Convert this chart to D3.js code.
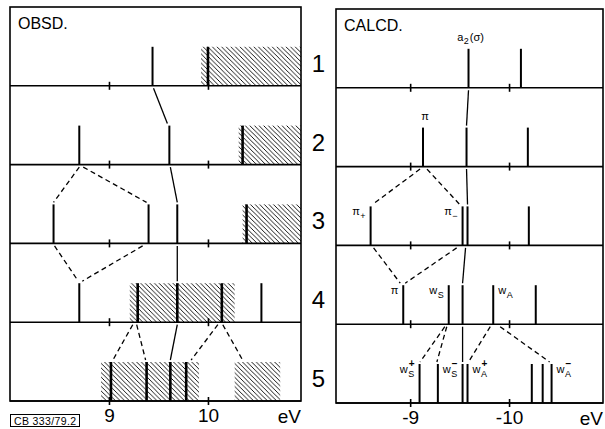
<!DOCTYPE html>
<html>
<head>
<meta charset="utf-8">
<script src="https://cdn.jsdelivr.net/npm/d3@7"></script>
<style>
  body { margin: 0; background: #fff; }
  text { font-family: "Liberation Sans", Arial, Helvetica, sans-serif; fill: #000; }
</style>
</head>
<body>
<svg id="chart" width="605" height="429"></svg>
<script>
const rowNames = ["1", "2", "3", "4", "5"];

// observed spectra, eV  [row, eV]
const obsPeaks = [[0, 9.44], [1, 8.70], [1, 9.61], [2, 8.44], [2, 9.40], [2, 9.69], [3, 8.70], [3, 10.54]];
// onsets / peaks lying inside a hatched band  [row, eV]
const obsBandPeaks = [[0, 10.0], [1, 10.35], [2, 10.39], [3, 9.29], [3, 9.69], [3, 10.14],
                      [4, 9.02], [4, 9.38], [4, 9.62], [4, 9.78]];
// hatched (unresolved) bands  [row, from eV, to eV]
const obsBands = [[0, 9.93, 10.94], [1, 10.31, 10.94], [2, 10.35, 10.94], [3, 9.21, 10.27],
                  [4, 8.92, 9.91], [4, 10.27, 10.73]];
// correlations row -> row+1  [row, eV upper, eV lower]
const obsSolidLinks = [[0, 9.45, 9.59], [1, 9.62, 9.69], [2, 9.69, 9.69], [3, 9.69, 9.62]];
const obsDashedLinks = [[1, 8.70, 8.44], [1, 8.74, 9.38], [2, 8.45, 8.69], [2, 9.34, 8.73],
                        [3, 9.24, 9.04], [3, 9.28, 9.37], [3, 10.10, 9.83], [3, 10.15, 10.35]];

// calculated orbital energies, eV  [row, eV]
const calcPeaks = [[0, -9.59], [0, -10.12],
                   [1, -9.13], [1, -9.57], [1, -10.19],
                   [2, -8.60], [2, -9.53], [2, -9.58], [2, -10.20],
                   [3, -8.93], [3, -9.39], [3, -9.53], [3, -9.84], [3, -10.27],
                   [4, -9.095], [4, -9.28], [4, -9.53], [4, -9.58], [4, -10.23], [4, -10.34], [4, -10.43]];
const calcSolidLinks = [[0, -9.59, -9.57], [1, -9.57, -9.58], [2, -9.56, -9.53], [3, -9.53, -9.53]];
const calcDashedLinks = [[1, -9.10, -8.62], [1, -9.17, -9.50], [2, -8.63, -8.90], [2, -9.47, -8.95],
                         [3, -9.35, -9.10], [3, -9.37, -9.27], [3, -9.81, -9.59], [3, -9.91, -10.41]];
// [row, eV, side, symbol, subscript, superscript, rest]
const calcLabels = [
  [0, -9.59, "top", "a", "2", "", "(σ)"],
  [1, -9.13, "top", "π", "", "", ""],
  [2, -8.60, "left", "π", "+", "", ""],
  [2, -9.53, "left", "π", "−", "", ""],
  [3, -8.93, "left", "π", "", "", ""],
  [3, -9.39, "left", "w", "S", "", ""],
  [3, -9.84, "right", "w", "A", "", ""],
  [4, -9.095, "left", "w", "S", "+", ""],
  [4, -9.28, "right", "w", "S", "−", ""],
  [4, -9.58, "right", "w", "A", "+", ""],
  [4, -10.43, "right", "w", "A", "−", ""]
];

const obsTicks = [9, 10];
const calcTicks = [-9, -10];

const svg = d3.select("#chart");

var defs = svg.append("defs");
defs.append("pattern")
    .attr("id", "hatch")
    .attr("patternUnits", "userSpaceOnUse")
    .attr("width", 4.6).attr("height", 4.6)
  .append("path")
    .attr("d", "M0,0L4.6,4.6M-1,3.6L1,5.6M3.6,-1L5.6,1")
    .attr("stroke", "#000").attr("stroke-width", 0.9);

var frameTop = 7;
var row = d3.scaleLinear().domain([0, rowNames.length - 1]).range([85.8, 401]);
var h = d3.scaleLinear().domain([0, 1]).range([0, 39]);

var xObs = d3.scaleLinear().domain([8.0, 10.94]).range([10, 301]);
var xCalc = d3.scaleLinear().domain([-8.25, -10.95]).range([336, 603]);

function panel(g, x, ticks, fmt, title) {
  var x0 = x.range()[0], x1 = x.range()[1];

  g.append("rect")
      .attr("x", x0).attr("y", frameTop)
      .attr("width", x1 - x0).attr("height", row(rowNames.length - 1) - frameTop)
      .attr("fill", "none").attr("stroke", "#000").attr("stroke-width", 1.6);

  rowNames.forEach(function(r, i) {
    var ax = g.append("g")
        .attr("transform", "translate(0," + row(i) + ")")
        .call(d3.axisBottom(x).tickValues(ticks).tickSize(4).tickFormat(""));
    ax.select(".domain").remove();
    ax.selectAll(".tick line").attr("y1", -4).attr("stroke-width", 1.6);
    g.append("line")
        .attr("x1", x0).attr("x2", x1)
        .attr("y1", row(i)).attr("y2", row(i))
        .attr("stroke", "#000").attr("stroke-width", 1.6);
  });

  var lab = g.append("g")
      .attr("transform", "translate(0," + row(rowNames.length - 1) + ")")
      .call(d3.axisBottom(x).tickValues(ticks).tickSize(0).tickPadding(8).tickFormat(fmt));
  lab.select(".domain").remove();
  lab.selectAll("text").attr("font-size", 19).attr("font-family", null);

  g.append("text")
      .attr("x", x1).attr("y", row(rowNames.length - 1) + 22)
      .attr("text-anchor", "end").attr("font-size", 19)
      .text("eV");

  g.append("text")
      .attr("x", x0 + 8).attr("y", frameTop + 22)
      .attr("font-size", 16)
      .text(title);
}

function peaks(g, x, data, w) {
  g.selectAll(null).data(data).enter().append("line")
      .attr("x1", d => x(d[1])).attr("x2", d => x(d[1]))
      .attr("y1", d => row(d[0])).attr("y2", d => row(d[0]) - h(1))
      .attr("stroke", "#000").attr("stroke-width", w);
}

function links(g, x, data, dashed) {
  g.selectAll(null).data(data).enter().append("line")
      .attr("x1", d => x(d[1])).attr("y1", d => row(d[0]) + 2.5)
      .attr("x2", d => x(d[2])).attr("y2", d => row(d[0] + 1) - h(1) - 2)
      .attr("stroke", "#000").attr("stroke-width", 1.3)
      .attr("stroke-dasharray", dashed ? "5,3.5" : null);
}

// ---- observed
var gObs = svg.append("g");
panel(gObs, xObs, obsTicks, d => String(d), "OBSD.");
gObs.selectAll(null).data(obsBands).enter().append("rect")
    .attr("x", d => xObs(d[1])).attr("width", d => xObs(d[2]) - xObs(d[1]))
    .attr("y", d => row(d[0]) - h(1)).attr("height", h(1))
    .attr("fill", "url(#hatch)");
peaks(gObs, xObs, obsPeaks, 2);
peaks(gObs, xObs, obsBandPeaks, 2.6);
links(gObs, xObs, obsSolidLinks, false);
links(gObs, xObs, obsDashedLinks, true);

// ---- calculated
var gCalc = svg.append("g").attr("transform", "translate(0,2)");
panel(gCalc, xCalc, calcTicks, d => "-" + Math.abs(d), "CALCD.");
peaks(gCalc, xCalc, calcPeaks, 2);
links(gCalc, xCalc, calcSolidLinks, false);
links(gCalc, xCalc, calcDashedLinks, true);

calcLabels.forEach(function(d) {
  var lg = gCalc.append("g");
  var t = lg.append("text").attr("font-size", 11).text(d[3]);
  var w = t.node().getComputedTextLength();
  var wEnd = w;
  if (d[4]) {
    var s = lg.append("text").attr("x", w + 0.5).attr("y", 3.5).attr("font-size", 9).text(d[4]);
    wEnd = Math.max(wEnd, w + 0.5 + s.node().getComputedTextLength());
  }
  if (d[5]) {
    var p = lg.append("text").attr("x", w + 1).attr("y", -6).attr("font-size", 10).attr("font-weight", "bold").text(d[5]);
    wEnd = Math.max(wEnd, w + 1 + p.node().getComputedTextLength());
  }
  if (d[6]) {
    var r = lg.append("text").attr("x", wEnd + 1).attr("font-size", 11).text(d[6]);
    wEnd = wEnd + 1 + r.node().getComputedTextLength();
  }
  var xl = xCalc(d[1]), yTop = row(d[0]) - h(1);
  var tx, ty;
  if (d[2] === "top") { tx = xl - wEnd / 2 + 2; ty = yTop - 8; }
  else if (d[2] === "left") { tx = xl - 5 - wEnd; ty = yTop + 9; }
  else { tx = xl + 5; ty = yTop + 9; }
  lg.attr("transform", "translate(" + tx + "," + ty + ")");
});

// ---- row numbers
svg.selectAll(null).data(rowNames).enter().append("text")
    .attr("x", 318.5).attr("y", (d, i) => row(i) - 14)
    .attr("text-anchor", "middle").attr("font-size", 24)
    .text(d => d);

// ---- figure code
svg.append("rect")
    .attr("x", 10.5).attr("y", 414.5).attr("width", 69).attr("height", 12)
    .attr("fill", "none").attr("stroke", "#000").attr("stroke-width", 1);
svg.append("text")
    .attr("x", 45).attr("y", 424.5).attr("text-anchor", "middle")
    .attr("font-size", 10.5).attr("textLength", 62)
    .text("CB 333/79.2");
</script>
</body>
</html>
